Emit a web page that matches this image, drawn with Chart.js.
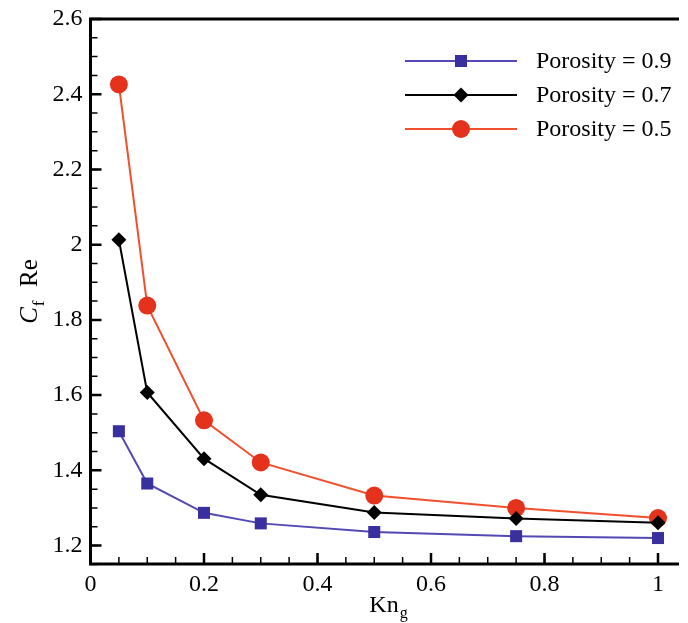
<!DOCTYPE html>
<html>
<head>
<meta charset="utf-8">
<script src="https://cdn.jsdelivr.net/npm/chart.js@4"></script>
<style>
  html, body { margin: 0; padding: 0; background: #fff; }
  canvas { display: block; }
</style>
</head>
<body>
<canvas id="chart" width="688" height="623"></canvas>
<script>
// Kn_g values shared by all three curves
const knValues = [0.05, 0.1, 0.2, 0.3, 0.5, 0.75, 1]

// C_f Re, one array per porosity
const porosity09 = [1.504, 1.365, 1.287, 1.259, 1.236, 1.225, 1.220]
const porosity07 = [2.013, 1.607, 1.431, 1.335, 1.288, 1.272, 1.261]
const porosity05 = [2.426, 1.838, 1.533, 1.421, 1.333, 1.300, 1.273]

const seriesLabels = ["Porosity = 0.9", "Porosity = 0.7", "Porosity = 0.5"]

// tick labels
const xTicks = [0, 0.2, 0.4, 0.6, 0.8, 1]
const yTicks = [1.2, 1.4, 1.6, 1.8, 2, 2.2, 2.4, 2.6]

const FONT = "'Liberation Serif', 'DejaVu Serif', serif"

const styles = [
  { line: "#5448b4", fill: "#3a2f9e", pointStyle: "rect", radius: 8.5 },
  { line: "#000000", fill: "#000000", pointStyle: "rectRot", radius: 7.5 },
  { line: "#f0502e", fill: "#e5321c", pointStyle: "circle", radius: 9 },
]

const toPoints = (ys) => knValues.map((x, i) => ({ x, y: ys[i] }))

const datasets = [porosity09, porosity07, porosity05].map((ys, i) => ({
  label: seriesLabels[i],
  data: toPoints(ys),
  borderColor: styles[i].line,
  backgroundColor: styles[i].fill,
  pointBackgroundColor: styles[i].fill,
  pointBorderColor: styles[i].fill,
  pointBorderWidth: 0,
  pointStyle: styles[i].pointStyle,
  pointRadius: styles[i].radius,
  borderWidth: 2,
  tension: 0,
  clip: false,
}))

// minor ticks every 0.05 between the labelled ones
const minorTicks = (from, to, step) => {
  const out = []
  for (let v = from; v <= to + 1e-9; v += step) out.push(Math.round(v * 1000) / 1000)
  return out
}

// inward tick marks, frame lines, legend and the two subscripted axis titles
const framePlugin = {
  id: "frame",
  afterDraw(chart) {
    const { ctx, chartArea: a, scales: { x, y } } = chart
    ctx.save()
    ctx.strokeStyle = "#000"
    ctx.lineCap = "butt"

    // minor ticks
    ctx.lineWidth = 1.5
    ctx.beginPath()
    minorTicks(0.05, 1.0, 0.05).forEach((v) => {
      const px = x.getPixelForValue(v)
      ctx.moveTo(px, a.bottom); ctx.lineTo(px, a.bottom - 7)
    })
    minorTicks(1.15, 2.55, 0.05).forEach((v) => {
      const py = y.getPixelForValue(v)
      ctx.moveTo(a.left, py); ctx.lineTo(a.left + 7, py)
    })
    ctx.stroke()

    // major ticks
    ctx.lineWidth = 2.5
    ctx.beginPath()
    xTicks.forEach((v) => {
      const px = x.getPixelForValue(v)
      ctx.moveTo(px, a.bottom); ctx.lineTo(px, a.bottom - 11)
    })
    yTicks.forEach((v) => {
      const py = y.getPixelForValue(v)
      ctx.moveTo(a.left, py); ctx.lineTo(a.left + 11, py)
    })
    ctx.stroke()

    // frame: left, bottom, top
    ctx.lineWidth = 3
    ctx.beginPath()
    ctx.moveTo(a.right, a.top); ctx.lineTo(a.left, a.top)
    ctx.lineTo(a.left, a.bottom); ctx.lineTo(a.right, a.bottom)
    ctx.stroke()

    // legend
    const rows = [61, 95, 129]
    ctx.textBaseline = "middle"
    ctx.textAlign = "left"
    ctx.font = "24px " + FONT
    chart.data.datasets.forEach((ds, i) => {
      const ly = rows[i]
      ctx.strokeStyle = ds.borderColor
      ctx.lineWidth = 2
      ctx.beginPath(); ctx.moveTo(405, ly); ctx.lineTo(517, ly); ctx.stroke()
      ctx.fillStyle = ds.pointBackgroundColor
      ctx.strokeStyle = ds.pointBackgroundColor
      Chart.helpers.drawPoint(ctx, { pointStyle: ds.pointStyle, radius: ds.pointRadius, rotation: 0, borderWidth: 0 }, 461, ly)
      ctx.fillStyle = "#000"
      ctx.fillText(ds.label, 536, ly + 1)
    })

    // x title: Kn_g
    ctx.fillStyle = "#000"
    ctx.textBaseline = "alphabetic"
    ctx.font = "24px " + FONT
    const knW = ctx.measureText("Kn").width
    const cx = 384
    ctx.fillText("Kn", cx - knW / 2, 612)
    ctx.font = "16px " + FONT
    ctx.fillText("g", cx + knW / 2 + 1, 618)

    // y title: C_f Re
    ctx.translate(37, (a.top + a.bottom) / 2)
    ctx.rotate(-Math.PI / 2)
    ctx.font = "italic 25px " + FONT
    const cW = ctx.measureText("C").width
    ctx.font = "17px " + FONT
    const fW = ctx.measureText("f").width
    ctx.font = "25px " + FONT
    const reW = ctx.measureText("  Re").width
    let tx = -(cW + fW + 2 + reW) / 2
    ctx.font = "italic 25px " + FONT
    ctx.fillText("C", tx, 0)
    tx += cW + 1
    ctx.font = "17px " + FONT
    ctx.fillText("f", tx, 7)
    tx += fW + 1
    ctx.font = "25px " + FONT
    ctx.fillText("  Re", tx, 0)
    ctx.restore()
  },
}

new Chart(document.getElementById("chart"), {
  type: "line",
  data: { datasets },
  options: {
    responsive: false,
    animation: false,
    layout: { padding: { top: 19, right: 0, left: 0, bottom: 0 } },
    scales: {
      x: {
        type: "linear",
        min: 0,
        max: 1.037,
        afterBuildTicks: (s) => { s.ticks = xTicks.map((v) => ({ value: v })) },
        afterFit: (s) => { s.height = 59; s.paddingLeft = 0; s.paddingRight = 0 },
        grid: { display: false, drawTicks: false },
        border: { display: false },
        ticks: { color: "#000", padding: 6, maxRotation: 0, autoSkip: false, font: { family: FONT, size: 24 }, callback: (v) => String(v) },
      },
      y: {
        type: "linear",
        min: 1.151,
        max: 2.6,
        afterBuildTicks: (s) => { s.ticks = yTicks.map((v) => ({ value: v })) },
        afterFit: (s) => { s.width = 90.5; s.paddingTop = 0; s.paddingBottom = 0 },
        grid: { display: false, drawTicks: false },
        border: { display: false },
        ticks: { color: "#000", padding: 8, autoSkip: false, font: { family: FONT, size: 24 }, callback: (v) => String(v) },
      },
    },
    plugins: {
      legend: { display: false },
      tooltip: { enabled: false },
    },
  },
  plugins: [framePlugin],
})
</script>
</body>
</html>
